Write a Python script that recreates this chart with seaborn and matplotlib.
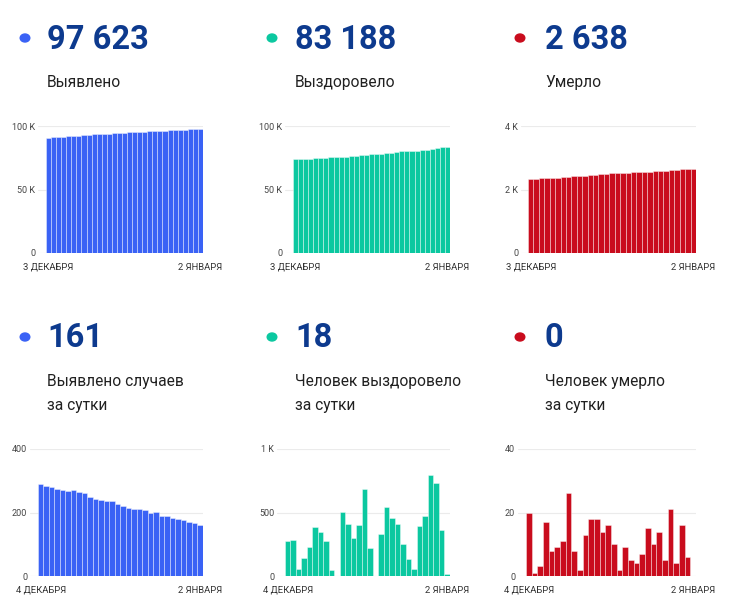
import pandas as pd
import seaborn as sns
import matplotlib.pyplot as plt
from matplotlib.patches import Circle

sns.set_theme(style='white')
plt.rcParams['font.family'] = ['Roboto', 'DejaVu Sans']

# cumulative, 3 Dec - 2 Jan
detected_total = [90850, 91140, 91422, 91702, 91976, 92248, 92516, 92786, 93052, 93312,
                  93562, 93804, 94044, 94280, 94515, 94743, 94963, 95178, 95390, 95600,
                  95807, 96007, 96210, 96400, 96589, 96771, 96949, 97125, 97295, 97462, 97623]
recovered_total = [73680, 73954, 74236, 74294, 74436, 74662, 75046, 75391, 75670, 75715,
                   75715, 76218, 76626, 76926, 77331, 78013, 78237, 78237, 78571, 79111,
                   79564, 79977, 80232, 80364, 80417, 80812, 81286, 82081, 82810, 83170, 83188]
deaths_total = [2326, 2346, 2347, 2350, 2367, 2375, 2384, 2395, 2421, 2429,
                2431, 2444, 2462, 2480, 2494, 2510, 2520, 2522, 2531, 2536,
                2540, 2547, 2562, 2572, 2586, 2591, 2612, 2616, 2632, 2638, 2638]

# daily, 4 Dec - 2 Jan
detected_daily = [290, 282, 280, 274, 272, 268, 270, 266, 260, 250,
                  242, 240, 236, 235, 228, 220, 215, 212, 210, 207,
                  200, 203, 190, 189, 182, 178, 176, 170, 167, 161]
recovered_daily = [274, 282, 58, 142, 226, 384, 345, 279, 45, 0,
                   503, 408, 300, 405, 682, 224, 0, 334, 540, 453,
                   413, 255, 132, 53, 395, 474, 795, 729, 360, 18]
deaths_daily = [20, 1, 3, 17, 8, 9, 11, 26, 8, 2,
                13, 18, 18, 14, 16, 10, 2, 9, 5, 4,
                7, 15, 10, 14, 5, 21, 4, 16, 6, 0]

headline_values = ['97 623', '83 188', '2 638', '161', '18', '0']
headline_labels = [['Выявлено'], ['Выздоровело'], ['Умерло'],
                   ['Выявлено случаев', 'за сутки'],
                   ['Человек выздоровело', 'за сутки'],
                   ['Человек умерло', 'за сутки']]
top_dates = ['3 ДЕКАБРЯ', '2 ЯНВАРЯ']
bottom_dates = ['4 ДЕКАБРЯ', '2 ЯНВАРЯ']

BLUE = '#3a62f5'
GREEN = '#0bc8a0'
RED = '#c90c1d'
NAVY = '#0d3a8e'

W, H = 739, 615
fig = plt.figure(figsize=(W / 100, H / 100), dpi=100)


def px_axes(x0, x1, y_top, y_base):
    return fig.add_axes([x0 / W, (H - y_base) / H, (x1 - x0) / W, (y_base - y_top) / H])


def draw_chart(ax, values, color, ymax, ticks, ticklabels, dates, pad):
    n = len(values)
    df = pd.DataFrame({'day': range(n), 'value': values})
    sns.barplot(data=df, x='day', y='value', color=color, width=1.0,
                edgecolor=(1, 1, 1, 0.55), linewidth=0.5, saturation=1, ax=ax)
    ax.set_xlim(-0.5 - pad, n - 0.5)
    ax.set_ylim(0, ymax)
    ax.set_yticks(ticks)
    ax.set_yticklabels(ticklabels)
    ax.set_xticks([0, n - 1])
    ax.set_xticklabels(dates)
    ax.set_xlabel('')
    ax.set_ylabel('')
    ax.grid(axis='y', color='#ebebeb', linewidth=0.8)
    ax.set_axisbelow(True)
    for s in ax.spines.values():
        s.set_visible(False)
    ax.tick_params(axis='y', length=0, pad=2, labelsize=6.5, labelcolor='#444444')
    ax.tick_params(axis='x', length=0, pad=7, labelsize=6.8, labelcolor='#333333')


# top row
ax = px_axes(38, 203, 126, 253)
draw_chart(ax, detected_total, BLUE, 100000, [0, 50000, 100000], ['0', '50 K', '100 K'], top_dates, 1.58)
ax = px_axes(285, 450, 126, 253)
draw_chart(ax, recovered_total, GREEN, 100000, [0, 50000, 100000], ['0', '50 K', '100 K'], top_dates, 1.58)
ax = px_axes(521, 696, 126, 253)
draw_chart(ax, deaths_total, RED, 4000, [0, 2000, 4000], ['0', '2 K', '4 K'], top_dates, 1.3)

# bottom row
ax = px_axes(30, 203, 449, 576)
draw_chart(ax, detected_daily, BLUE, 400, [0, 200, 400], ['0', '200', '400'], bottom_dates, 1.45)
ax = px_axes(277, 450, 449, 576)
draw_chart(ax, recovered_daily, GREEN, 1000, [0, 500, 1000], ['0', '500', '1 K'], bottom_dates, 1.45)
ax = px_axes(518, 696, 449, 576)
draw_chart(ax, deaths_daily, RED, 40, [0, 20, 40], ['0', '20', '40'], bottom_dates, 1.4)

# headlines
colors = [BLUE, GREEN, RED]
col_x = [47, 295, 545]
dot_x = [25, 272, 520]
rows = [(38, 49, 87), (337, 347, 386)]
for r, (dot_y, num_y, lab_y) in enumerate(rows):
    for c in range(3):
        i = r * 3 + c
        fig.patches.append(Circle((dot_x[c] / W, (H - dot_y) / H), 4.8 / W,
                                  transform=fig.transFigure, color=colors[c]))
        fig.text(col_x[c] / W, (H - num_y) / H, headline_values[i], fontsize=23.5,
                 fontweight='bold', color=NAVY, va='baseline', ha='left')
        for k, line in enumerate(headline_labels[i]):
            fig.text(col_x[c] / W, (H - lab_y - 24 * k) / H, line, fontsize=11.2,
                     color='#212121', va='baseline', ha='left')

fig.savefig('out.png', dpi=100, facecolor='white')
